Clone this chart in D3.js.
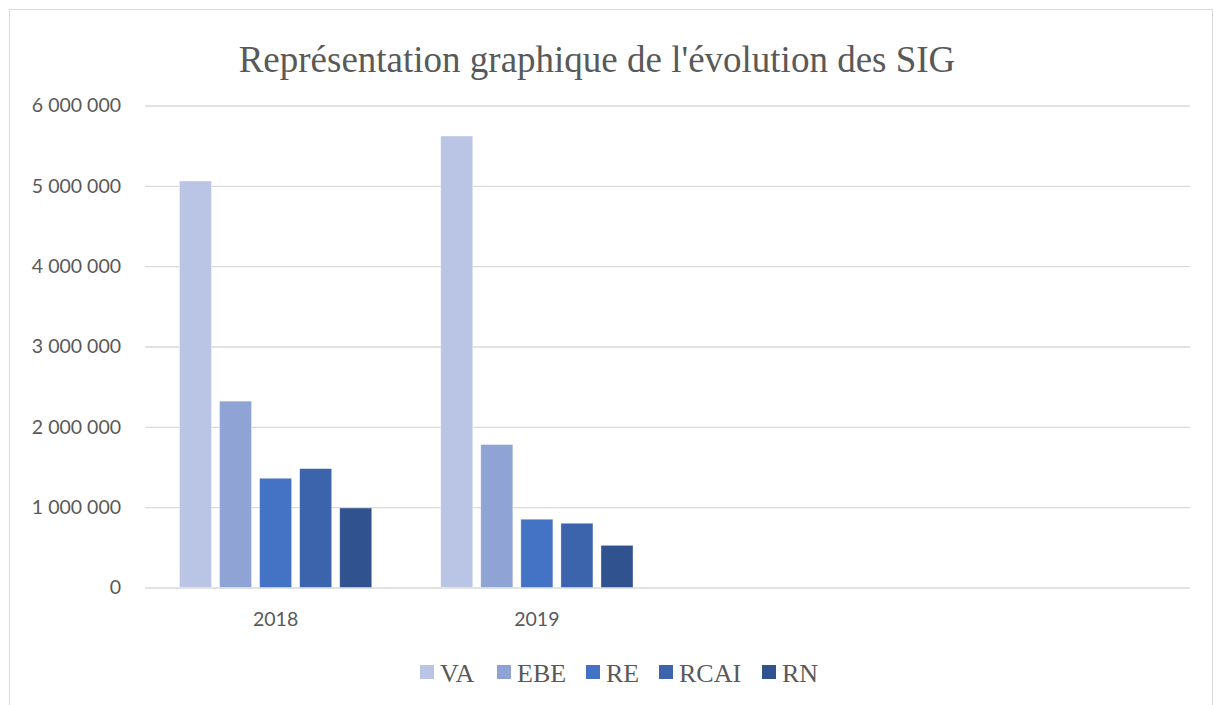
<!DOCTYPE html>
<meta charset="utf-8">
<style>
    body {
        margin: 0;
        overflow: hidden;
        background: #fff;
    }
</style>
<svg id="canvas" width="1214" height="705"></svg>
<script src="https://d3js.org/d3.v7.min.js"></script>
<script>

    var years = ["2018", "2019", "", ""];
    var series = ["VA", "EBE", "RE", "RCAI", "RN"];
    var colors = ["#bac4e4", "#8fa4d4", "#4472c4", "#3b64ad", "#30538f"];
    var values2018 = [5060000, 2320000, 1360000, 1480000, 990000];
    var values2019 = [5620000, 1780000, 850000, 800000, 525000];
    var yTicks = [0, 1000000, 2000000, 3000000, 4000000, 5000000, 6000000];

    var table = [values2018, values2019];

    var svg = d3.select("svg");
    var plotLeft = 145, plotRight = 1190, plotTop = 105.5, plotBottom = 587.5;

    // chart frame
    svg.append("rect")
       .attr("x", 9.5).attr("y", 9.5)
       .attr("width", 1203).attr("height", 720)
       .attr("fill", "none")
       .attr("stroke", "#d9d9d9");

    svg.append("text")
       .attr("x", 597).attr("y", 72)
       .attr("text-anchor", "middle")
       .attr("font-family", "Liberation Serif")
       .attr("font-size", 37)
       .attr("fill", "#595959")
       .text("Représentation graphique de l'évolution des SIG");

    var y = d3.scaleLinear().domain([0, 6000000]).range([plotBottom, plotTop]);

    var x0 = d3.scaleBand()
               .domain(d3.range(years.length))
               .range([plotLeft, plotRight])
               .paddingInner(0.264)
               .paddingOuter(0.132);

    var x1 = d3.scaleBand()
               .domain(series)
               .range([0, x0.bandwidth()])
               .paddingInner(0.2);

    var fmt = function(d) { return d3.format(",")(d).replace(/,/g, " "); };

    // gridlines + y labels
    var yAxis = svg.append("g")
                   .attr("transform", "translate(" + plotLeft + ",0)")
                   .call(d3.axisLeft(y).tickValues(yTicks).tickSize(-(plotRight - plotLeft)).tickPadding(24).tickFormat(fmt));
    yAxis.select(".domain").remove();
    yAxis.selectAll("line").attr("stroke", "#d9d9d9").attr("stroke-width", 1.3);
    yAxis.selectAll("text")
         .attr("font-family", "Lato, 'Open Sans', sans-serif")
         .attr("font-size", 19.5)
         .attr("fill", "#595959");

    // bars
    var groups = svg.append("g")
                    .selectAll("g")
                    .data(table)
                    .enter().append("g")
                    .attr("transform", function(d, i) { return "translate(" + x0(i) + ",0)"; });

    groups.selectAll("rect")
          .data(function(d) { return d.map(function(v, j) { return {key: series[j], value: v}; }); })
          .enter().append("rect")
          .attr("x", function(d) { return x1(d.key); })
          .attr("y", function(d) { return y(d.value); })
          .attr("width", x1.bandwidth())
          .attr("height", function(d) { return y(0) - y(d.value); })
          .attr("fill", function(d, j) { return colors[j]; })
          .attr("stroke", "#ffffff")
          .attr("stroke-opacity", 0.5)
          .attr("stroke-width", 0.75);

    // x labels
    var xAxis = svg.append("g")
                   .attr("transform", "translate(0," + plotBottom + ")")
                   .call(d3.axisBottom(x0).tickSize(0).tickPadding(25).tickFormat(function(i) { return years[i]; }));
    xAxis.select(".domain").remove();
    xAxis.selectAll("text")
         .attr("font-family", "Lato, 'Open Sans', sans-serif")
         .attr("font-size", 19.5)
         .attr("fill", "#595959");

    // legend
    var legendX = [420, 497, 586, 659, 762];
    var legend = svg.append("g")
                    .selectAll("g")
                    .data(series)
                    .enter().append("g")
                    .attr("transform", function(d, i) { return "translate(" + legendX[i] + ",665)"; });

    legend.append("rect")
          .attr("width", 14).attr("height", 14)
          .attr("fill", function(d, i) { return colors[i]; });

    legend.append("text")
          .attr("x", 20).attr("y", 17)
          .attr("font-family", "Liberation Serif")
          .attr("font-size", 26)
          .attr("fill", "#595959")
          .text(function(d) { return d; });

</script>
